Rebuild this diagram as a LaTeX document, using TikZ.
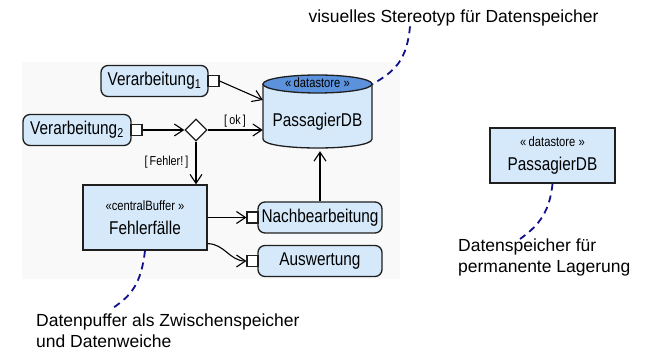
\documentclass[tikz,border=0pt]{standalone}
\usepackage{fontspec}
\setmainfont{Liberation Sans}
\newfontfamily\narrowsf[FakeStretch=0.83]{Liberation Sans}
\usetikzlibrary{shapes.geometric,arrows.meta,calc}
\definecolor{boxblue}{RGB}{213,233,251}
\definecolor{topblue}{RGB}{92,146,220}
\definecolor{notenavy}{RGB}{16,16,140}
\definecolor{panelgray}{RGB}{249,249,249}
\newcommand{\lbl}{\narrowsf\fontsize{18.5}{21}\selectfont}
\newcommand{\stereo}{\narrowsf\fontsize{13.5}{15}\selectfont}
\newcommand{\guard}{\narrowsf\fontsize{13}{15}\selectfont}
\newcommand{\notefont}{\fontsize{17.5}{21}\selectfont}

\tikzset{
 action/.style={draw=black!88, line width=1.3pt, rounded corners=7pt, fill=boxblue,
   inner sep=2pt, minimum height=31pt, font=\lbl},
 pinbox/.style={draw=black!88, line width=1.1pt, fill=white, minimum size=11pt, inner sep=0pt},
 objbox/.style={draw=black!88, line width=1.3pt, fill=boxblue, align=center},
 flow/.style={-{Straight Barb[length=9pt,width=12pt]}, line width=1.1pt},
 note/.style={draw=notenavy, line width=1.8pt, dash pattern=on 7pt off 5pt},
}

\begin{document}
\begin{tikzpicture}[x=1pt,y=-1pt]
\useasboundingbox (0,0) rectangle (650,355);
\fill[panelgray] (22,62) rectangle (400,279);
%
\node[action, minimum width=107pt] (v1) at (154.5,81) {Verarbeitung\textsubscript{1}};
\node[pinbox] (p1) at (213.5,81) {};
\node[action, minimum width=108pt] (v2) at (77,130) {Verarbeitung\textsubscript{2}};
\node[pinbox] (p2) at (136.5,130) {};
\node[diamond, draw=black!88, fill=white, line width=1.3pt, minimum width=22pt,
  minimum height=22pt, inner sep=0pt] (dia) at (196,130) {};
\node[font=\guard] (ok) at (235,121) {[\,ok\,]};
\node[font=\guard] (err) at (166.5,162) {[\,Fehler!\,]};
%
\draw[line width=1.3pt, draw=black!88, fill=boxblue] (263,84) -- (263,139)
  .. controls (263,151) and (372,151) .. (372,139) -- (372,84);
\node[ellipse, draw=black!88, line width=1.3pt, fill=topblue, minimum width=109pt,
  minimum height=18pt, inner sep=0pt, text height=8pt, text depth=1pt,
  font=\stereo] (dbtop) at (317.5,84) {«\,datastore »};
\node[font=\lbl, minimum width=109pt, minimum height=58pt, inner sep=0pt] (db) at (317.5,122) {PassagierDB};
%
\node[objbox, minimum width=124pt, minimum height=65pt] (fb) at (145,217.5)
  {{\stereo «centralBuffer »}\\[9pt]{\lbl Fehlerfälle}};
\node[action, minimum width=124pt] (nb) at (320,217.5) {Nachbearbeitung};
\node[pinbox] (pn) at (252.5,217.5) {};
\node[action, minimum width=124pt] (aw) at (320,261) {Auswertung};
\node[pinbox] (pa) at (252.5,261) {};
%
\node[objbox, minimum width=125pt, minimum height=55pt] (store) at (552.5,155.5)
  {{\stereo «\,datastore »}\\[9pt]{\lbl PassagierDB}};
%
\draw[flow] (p1.east) -- ($(db.west)+(0,-22)$);
\draw[flow] (p2.east) -- (dia.west);
\draw[flow] (dia.east) -- (dia.east -| db.west);
\draw[flow] (dia.south) -- (dia.south |- fb.north);
\draw[flow] (fb.east) -- (pn.west);
\draw[flow] ([yshift=7pt]fb.south east) to[out=0,in=180] (pa.west);
\draw[flow] (nb.north) -- (nb.north |- db.south);
%
\node[font=\notefont, inner sep=0pt] (n1) at (453.5,18) {visuelles Stereotyp für Datenspeicher};
\node[font=\notefont, align=left, anchor=north west, inner sep=0pt] (n2) at (36,314)
  {Datenpuffer als Zwischenspeicher\\und Datenweiche};
\node[font=\notefont, align=left, anchor=north west, inner sep=0pt] (n3) at (458,239)
  {Datenspeicher für\\permanente Lagerung};
%
\draw[note] ([xshift=-43.5pt]n1.south) .. controls +(-3,33) and +(23,-13) .. (dbtop.east);
\draw[note] (fb.south) .. controls +(-4,35) and +(17,-12) .. ([xshift=77pt,yshift=6pt]n2.north west);
\draw[note] (store.south) .. controls +(-3,32) and +(15,-11) .. ([xshift=62pt]n3.north west);
\end{tikzpicture}
\end{document}
